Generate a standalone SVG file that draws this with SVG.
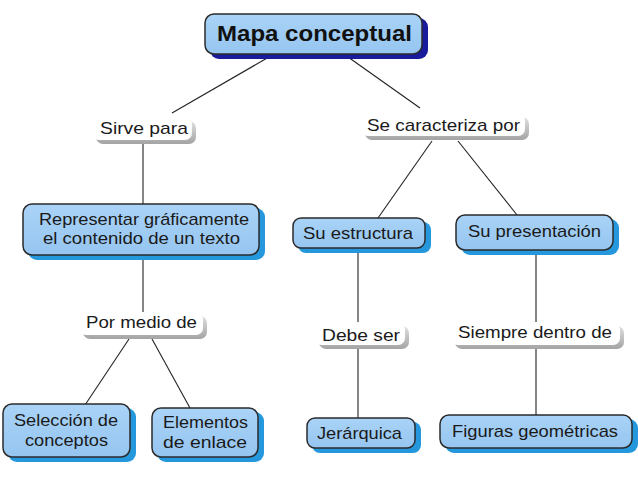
<svg xmlns="http://www.w3.org/2000/svg" width="638" height="479" viewBox="0 0 638 479">
<defs>
<linearGradient id="nodeFill" x1="0" y1="0" x2="0" y2="1">
<stop offset="0" stop-color="#aad3f7"/>
<stop offset="1" stop-color="#95c5f0"/>
</linearGradient>
<linearGradient id="labShadow" x1="0" y1="0" x2="0" y2="1">
<stop offset="0" stop-color="#e0e0e0"/>
<stop offset="1" stop-color="#a4a4a4"/>
</linearGradient>
</defs>
<style>
.node{fill:url(#nodeFill);stroke:#2b2b2b;stroke-width:1.5}
.shadow{fill:#2597dc}
.mainshadow{fill:#1a1a9c}
.labsh{fill:url(#labShadow)}
.lab{fill:#ffffff}
.t{font-family:"Liberation Sans",Arial,sans-serif;font-size:17px;fill:#1a1a1a;text-anchor:middle}
.tb{font-family:"Liberation Sans",Arial,sans-serif;font-size:21.5px;font-weight:bold;fill:#111;text-anchor:middle}
.c{stroke:#222;stroke-width:1.1;fill:none}
</style>
<rect width="638" height="479" fill="#ffffff"/>
<g id="connectors">
<line class="c" x1="269" y1="57" x2="172" y2="113"/>
<line class="c" x1="348" y1="57" x2="420" y2="108"/>
<line class="c" x1="143" y1="143" x2="143" y2="204"/>
<line class="c" x1="143" y1="256" x2="143" y2="314"/>
<line class="c" x1="129" y1="339" x2="85" y2="405"/>
<line class="c" x1="152" y1="339" x2="190" y2="408"/>
<line class="c" x1="432" y1="141" x2="378" y2="218"/>
<line class="c" x1="458" y1="141" x2="517" y2="215"/>
<line class="c" x1="358" y1="249" x2="358" y2="323"/>
<line class="c" x1="358" y1="349" x2="358" y2="418"/>
<line class="c" x1="536" y1="251" x2="536" y2="322"/>
<line class="c" x1="536" y1="349" x2="536" y2="415"/>
</g>
<g id="n-main">
<rect class="mainshadow" x="210" y="18" width="218" height="41" rx="9"/>
<rect class="node" x="205" y="14" width="217" height="40" rx="9"/>
<text class="tb" x="314.5" y="41" textLength="195" lengthAdjust="spacingAndGlyphs">Mapa conceptual</text>
</g>
<g id="n-sirve">
<rect class="labsh" x="96" y="121" width="100" height="23" rx="7"/>
<rect class="lab" x="92" y="117" width="100" height="23" rx="7"/>
<text class="t" x="144" y="134" textLength="88" lengthAdjust="spacingAndGlyphs">Sirve para</text>
</g>
<g id="n-caract">
<rect class="labsh" x="365" y="117" width="164" height="23" rx="7"/>
<rect class="lab" x="361" y="113" width="164" height="23" rx="7"/>
<text class="t" x="443.5" y="131" textLength="153" lengthAdjust="spacingAndGlyphs">Se caracteriza por</text>
</g>
<g id="n-repr">
<rect class="shadow" x="28" y="208" width="237" height="52" rx="9"/>
<rect class="node" x="23" y="204" width="236" height="51" rx="9"/>
<text class="t" x="144" y="224.5" textLength="210" lengthAdjust="spacingAndGlyphs">Representar gráficamente</text>
<text class="t" x="141.5" y="244" textLength="197" lengthAdjust="spacingAndGlyphs">el contenido de un texto</text>
</g>
<g id="n-estr">
<rect class="shadow" x="298" y="222" width="133" height="31" rx="8"/>
<rect class="node" x="293" y="218" width="132" height="30" rx="8"/>
<text class="t" x="358" y="239" textLength="110" lengthAdjust="spacingAndGlyphs">Su estructura</text>
</g>
<g id="n-pres">
<rect class="shadow" x="461" y="219" width="158" height="36" rx="9"/>
<rect class="node" x="456" y="215" width="157" height="35" rx="9"/>
<text class="t" x="534.5" y="237" textLength="133" lengthAdjust="spacingAndGlyphs">Su presentación</text>
</g>
<g id="n-medio">
<rect class="labsh" x="83" y="316" width="124" height="23" rx="7"/>
<rect class="lab" x="79" y="312" width="124" height="23" rx="7"/>
<text class="t" x="141.5" y="328" textLength="111" lengthAdjust="spacingAndGlyphs">Por medio de</text>
</g>
<g id="n-debe">
<rect class="labsh" x="319" y="326" width="90" height="23" rx="7"/>
<rect class="lab" x="315" y="322" width="90" height="23" rx="7"/>
<text class="t" x="361" y="341" textLength="78" lengthAdjust="spacingAndGlyphs">Debe ser</text>
</g>
<g id="n-siempre">
<rect class="labsh" x="455" y="326" width="169" height="23" rx="7"/>
<rect class="lab" x="451" y="322" width="169" height="23" rx="7"/>
<text class="t" x="535" y="338" textLength="154" lengthAdjust="spacingAndGlyphs">Siempre dentro de</text>
</g>
<g id="n-selec">
<rect class="shadow" x="8" y="408" width="128" height="54" rx="9"/>
<rect class="node" x="3" y="404" width="127" height="53" rx="9"/>
<text class="t" x="66" y="426" textLength="104" lengthAdjust="spacingAndGlyphs">Selección de</text>
<text class="t" x="66.5" y="445.5" textLength="83" lengthAdjust="spacingAndGlyphs">conceptos</text>
</g>
<g id="n-elem">
<rect class="shadow" x="157" y="412" width="107" height="50" rx="9"/>
<rect class="node" x="152" y="408" width="106" height="49" rx="9"/>
<text class="t" x="205.5" y="428" textLength="85" lengthAdjust="spacingAndGlyphs">Elementos</text>
<text class="t" x="205" y="448" textLength="84" lengthAdjust="spacingAndGlyphs">de enlace</text>
</g>
<g id="n-jer">
<rect class="shadow" x="312" y="422" width="109" height="31" rx="8"/>
<rect class="node" x="307" y="418" width="108" height="30" rx="8"/>
<text class="t" x="359.5" y="439" textLength="85" lengthAdjust="spacingAndGlyphs">Jerárquica</text>
</g>
<g id="n-fig">
<rect class="shadow" x="445" y="419" width="193" height="34" rx="9"/>
<rect class="node" x="440" y="415" width="192" height="33" rx="9"/>
<text class="t" x="535" y="437" textLength="166" lengthAdjust="spacingAndGlyphs">Figuras geométricas</text>
</g>
</svg>
